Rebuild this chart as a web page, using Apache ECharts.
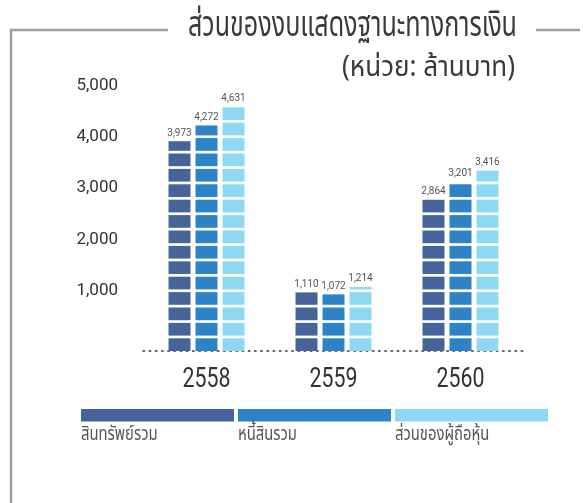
<!DOCTYPE html>
<html>
<head>
<meta charset="utf-8">
<script src="https://cdn.jsdelivr.net/npm/echarts@6/dist/echarts.min.js"></script>
<style>
  html, body { margin: 0; padding: 0; background: #fff; }
  #chart { width: 583px; height: 503px; }
</style>
</head>
<body>
<div id="chart"></div>
<script>
const years = ['2558', '2559', '2560'];
const seriesNames = ['สินทรัพย์รวม', 'หนี้สินรวม', 'ส่วนของผู้ถือหุ้น'];
const totalAssets = [3973, 1110, 2864];
const totalLiabilities = [4272, 1072, 3201];
const shareholdersEquity = [4631, 1214, 3416];
const yTicks = [1000, 2000, 3000, 4000, 5000];
const titleText = 'ส่วนของงบแสดงฐานะทางการเงิน';
const unitText = '(หน่วย: ล้านบาท)';

const palette = ['#46649a', '#2d83c5', '#8ed8f6'];
const thaiFont = "'Noto Sans Thai', 'Noto Sans Thai Looped', 'Noto Sans', sans-serif";
const numFont = 'Roboto, sans-serif';

const fmt = v => String(v).replace(/\B(?=(\d{3})+(?!\d))/g, ',');

// squeeze text horizontally to mimic the condensed face of the original
const measureCtx = document.createElement('canvas').getContext('2d');
function squeeze(text, size, family, targetWidth) {
  measureCtx.font = size + 'px ' + family;
  return targetWidth / measureCtx.measureText(text).width;
}

const chart = echarts.init(document.getElementById('chart'));

const seriesData = [totalAssets, totalLiabilities, shareholdersEquity];
const barW = 22, blockH = 12.7, pitch = 15.4;
const barOffsets = [-27, 0, 27];

const series = seriesData.map((d, i) => ({
  name: seriesNames[i],
  type: 'custom',
  xAxisIndex: 0,
  yAxisIndex: 0,
  data: d.map((v, j) => [j, v]),
  encode: { x: 0, y: 1 },
  silent: true,
  renderItem: (params, api) => {
    const v = api.value(1);
    const base = api.coord([api.value(0), 0]);
    const top = api.coord([api.value(0), v]);
    const cx = base[0] + barOffsets[i];
    const h = base[1] - top[1];
    const children = [];
    for (let k = 0; k * pitch < h; k++) {
      const y0 = base[1] - k * pitch;
      const yTop = Math.max(y0 - blockH, top[1]);
      children.push({
        type: 'rect',
        shape: { x: cx - barW / 2, y: yTop, width: barW, height: y0 - yTop },
        style: { fill: palette[i] }
      });
    }
    children.push({
      type: 'text',
      x: cx,
      y: top[1] - 3,
      style: {
        text: fmt(v), fontFamily: numFont, fontSize: 10, fill: '#555',
        align: 'center', verticalAlign: 'bottom'
      }
    });
    return { type: 'group', children: children };
  }
}));

// year labels under the dotted axis line
const yearScale = squeeze('2558', 28, numFont, 48);
series.push({
  name: 'years',
  type: 'custom',
  xAxisIndex: 0,
  yAxisIndex: 0,
  data: years.map((y, j) => [j, 0]),
  encode: { x: 0, y: 1 },
  silent: true,
  renderItem: (params, api) => {
    const p = api.coord([api.value(0), 0]);
    return {
      type: 'text',
      x: p[0],
      y: p[1] + 29,
      scaleX: yearScale,
      style: {
        text: years[params.dataIndex], fontFamily: numFont, fontSize: 28, fill: '#333',
        align: 'center', verticalAlign: 'middle'
      }
    };
  }
});

// legend keys drawn under the plot
const legendGraphics = [];
seriesNames.forEach((n, i) => {
  legendGraphics.push({
    type: 'rect',
    shape: { x: 81 + i * 157, y: 409, width: 153, height: 12.5 },
    style: { fill: palette[i] }
  });
  legendGraphics.push({
    type: 'text',
    x: 81 + i * 157,
    y: 427,
    scaleX: 0.78,
    style: { text: n, fontFamily: thaiFont, fontSize: 19, fill: '#555' }
  });
});

const option = {
  animation: false,
  backgroundColor: '#fff',
  grid: [
    { left: 143, right: 59, top: 87, bottom: 152 },
    { left: 126, right: 59, top: 85.4, bottom: 160.6 }
  ],
  xAxis: [
    {
      type: 'category',
      gridIndex: 0,
      data: years,
      offset: 2,
      axisLine: { show: true, lineStyle: { color: '#333', width: 1.5, type: [1.5, 4.7] } },
      axisTick: { show: false },
      axisLabel: { show: false }
    },
    { type: 'value', gridIndex: 1, show: false, min: 0, max: 1 }
  ],
  yAxis: [
    { type: 'value', gridIndex: 0, show: false, min: 0, max: 5000 },
    {
      type: 'value',
      gridIndex: 1,
      min: 0,
      max: yTicks[yTicks.length - 1],
      interval: yTicks[0],
      axisLine: { show: false },
      axisTick: { show: false },
      splitLine: { show: false },
      axisLabel: {
        fontFamily: numFont,
        fontSize: 17,
        color: '#333',
        margin: 8,
        formatter: v => (yTicks.includes(v) ? fmt(v) : '')
      }
    }
  ],
  series: series,
  graphic: [
    {
      type: 'polyline',
      shape: { points: [[168, 30], [11, 30], [11, 503]] },
      style: { stroke: '#a0a0a0', lineWidth: 2.5, fill: null }
    },
    {
      type: 'line',
      shape: { x1: 536, y1: 30, x2: 580, y2: 30 },
      style: { stroke: '#a0a0a0', lineWidth: 2.5 }
    },
    {
      type: 'text',
      x: 188,
      y: 29,
      scaleX: squeeze(titleText, 36, thaiFont, 329),
      style: {
        text: titleText, fontFamily: thaiFont, fontSize: 36, fill: '#3a3a3a',
        align: 'left', verticalAlign: 'middle'
      }
    },
    {
      type: 'text',
      x: 515,
      y: 70,
      scaleX: squeeze(unitText, 29, thaiFont, 173),
      style: {
        text: unitText, fontFamily: thaiFont, fontSize: 29, fill: '#3a3a3a',
        align: 'right', verticalAlign: 'middle'
      }
    }
  ].concat(legendGraphics)
};

chart.setOption(option);
</script>
</body>
</html>
